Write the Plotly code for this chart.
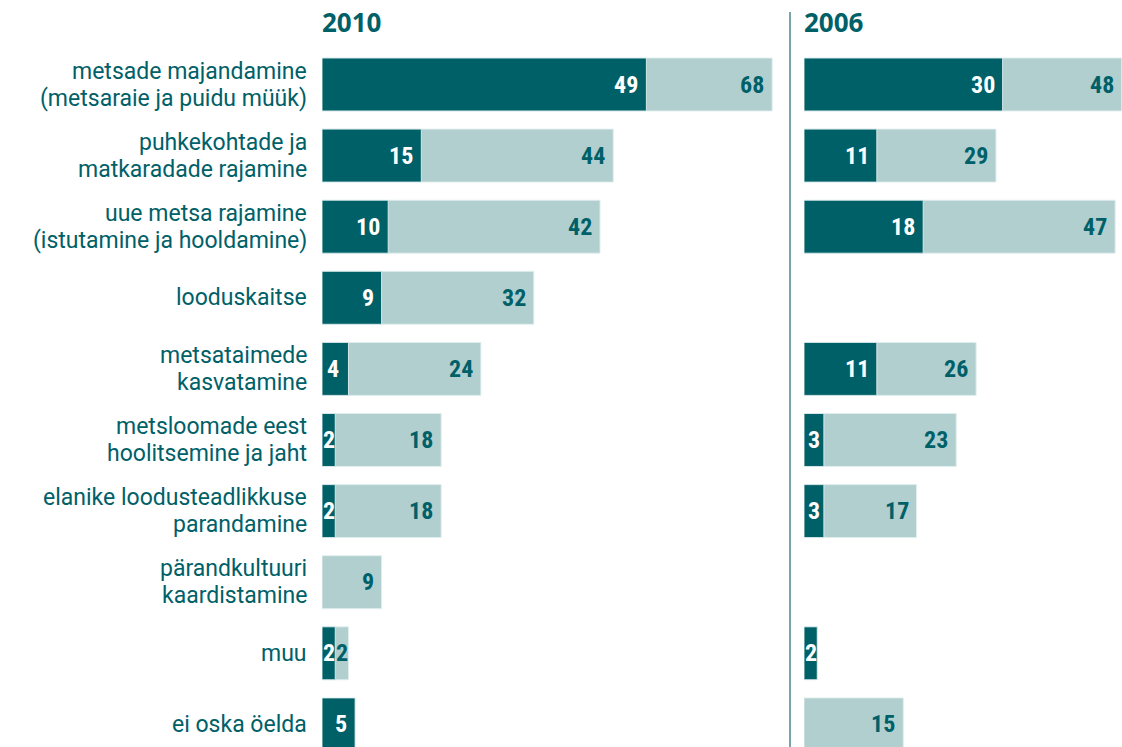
import plotly.graph_objects as go

categories = [
    "metsade majandamine<br>(metsaraie ja puidu müük)",
    "puhkekohtade ja<br>matkaradade rajamine",
    "uue metsa rajamine<br>(istutamine ja hooldamine)",
    "looduskaitse",
    "metsataimede<br>kasvatamine",
    "metsloomade eest<br>hoolitsemine ja jaht",
    "elanike loodusteadlikkuse<br>parandamine",
    "pärandkultuuri<br>kaardistamine",
    "muu",
    "ei oska öelda",
]

# dark segment (first value) and light bar end (total)
first_2010 = [49, 15, 10, 9, 4, 2, 2, None, 2, 5]
total_2010 = [68, 44, 42, 32, 24, 18, 18, 9, 4, None]
total_label_2010 = ["68", "44", "42", "32", "24", "18", "18", "9", "2", ""]

first_2006 = [30, 11, 18, None, 11, 3, 3, None, 2, None]
total_2006 = [48, 29, 47, None, 26, 23, 17, None, None, 15]
total_label_2006 = ["48", "29", "47", "", "26", "23", "17", "", "", "15"]

panel_titles = ["2010", "2006"]

DARK = "#006068"
LIGHT = "#b2cfd0"
EDGE = "rgba(225,238,238,0.9)"
W, H = 1122, 747
SCALE = 6.62  # px per unit
ROW = 71.1
y0c = 84.5

ypos = list(range(len(categories)))

fig = go.Figure()

panels = [
    ("x", 322, 790, first_2010, total_2010, total_label_2010),
    ("x2", 804, 1122, first_2006, total_2006, total_label_2006),
]

NUMFONT = "Roboto Condensed, Liberation Sans Narrow, DejaVu Sans Condensed, Roboto, sans-serif"
NUMSIZE = 24
annotations = []


def seg_label(xa, row, start, end, text, color):
    width = end - start
    font = dict(family=NUMFONT, size=NUMSIZE, color=color, weight="bold")
    if width < 3.5:
        return dict(x=(start + end) / 2, y=row, xref=xa, yref="y", text=text,
                    xanchor="center", showarrow=False, font=font)
    if width < 4.5:
        return dict(x=start, y=row, xref=xa, yref="y", text=text,
                    xanchor="left", xshift=3, showarrow=False, font=font)
    return dict(x=end, y=row, xref=xa, yref="y", text=text,
                xanchor="right", xshift=-6, showarrow=False, font=font)


for xa, px0, px1, first, total, tlabels in panels:
    fig.add_trace(go.Bar(
        y=ypos, x=total, orientation="h", xaxis=xa, yaxis="y",
        marker=dict(color=LIGHT, line=dict(color=EDGE, width=1)),
        width=0.745, hoverinfo="skip", showlegend=False))
    fig.add_trace(go.Bar(
        y=ypos, x=first, orientation="h", xaxis=xa, yaxis="y",
        marker=dict(color=DARK, line=dict(color=EDGE, width=1)),
        width=0.745, hoverinfo="skip", showlegend=False))
    for i in ypos:
        f = first[i]
        t = total[i]
        if f is not None:
            annotations.append(seg_label(xa, i, 0, f, str(f), "white"))
        if t is not None and tlabels[i]:
            base = f if f is not None else 0
            annotations.append(seg_label(xa, i, base, t, tlabels[i], DARK))

LABFONT = dict(family="Roboto, Open Sans, sans-serif", size=23, color=DARK)
LINE_GAP = 27
for i, c in enumerate(categories):
    lines = c.split("<br>")
    n = len(lines)
    for k, ln in enumerate(lines):
        shift = (n - 1) / 2 * LINE_GAP - k * LINE_GAP
        annotations.append(dict(x=308 / W, y=i, xref="paper", yref="y", text=ln,
                                xanchor="right", yanchor="middle", yshift=shift, showarrow=False,
                                borderpad=0, font=LABFONT))

for title, px in zip(panel_titles, [322, 804]):
    annotations.append(dict(x=px / W, y=1 - 22 / H, xref="paper", yref="paper", text=title,
                            xanchor="left", yanchor="middle", xshift=-2, showarrow=False,
                            font=dict(family="Open Sans, sans-serif", size=26, color=DARK, weight="bold")))

fig.update_layout(
    width=W, height=H,
    margin=dict(l=0, r=0, t=0, b=0),
    paper_bgcolor="white", plot_bgcolor="white",
    barmode="overlay",
    xaxis=dict(domain=[322 / W, 790 / W], range=[0, (790 - 322) / SCALE], visible=False, fixedrange=True),
    xaxis2=dict(domain=[804 / W, 1.0], range=[0, (1122 - 804) / SCALE], visible=False, anchor="y", fixedrange=True),
    yaxis=dict(range=[(H - y0c) / ROW, -y0c / ROW], visible=False, fixedrange=True),
    annotations=annotations,
    shapes=[dict(type="line", xref="paper", yref="paper", x0=790 / W, x1=790 / W,
                 y0=0, y1=1 - 12 / H, line=dict(color="#4a878c", width=1.5))],
)

fig.write_html("out.html")
